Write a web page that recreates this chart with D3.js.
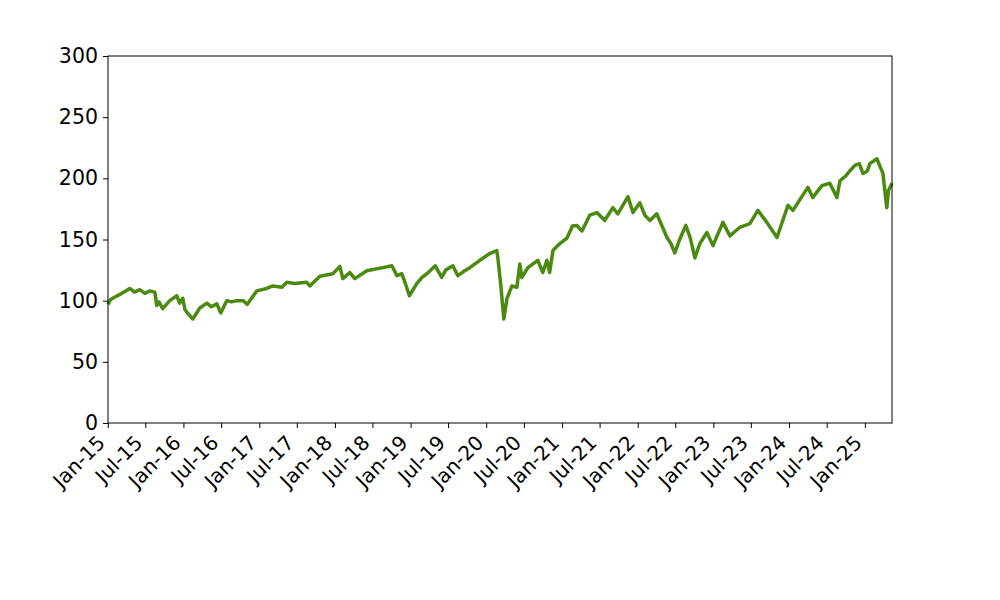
<!DOCTYPE html>
<html>
<head>
<meta charset="utf-8">
<script src="https://cdn.jsdelivr.net/npm/d3@7"></script>
<style>
  html, body { margin: 0; padding: 0; background: #fff; }
  svg { display: block; }
  text { font-family: "DejaVu Sans", sans-serif; }
</style>
</head>
<body>
<svg id="chart" width="1000" height="600"></svg>
<script>
// ---- data ----
const dates = [
  "2015-01-02","2015-01-15","2015-02-04","2015-03-10","2015-04-17","2015-05-10","2015-06-04","2015-06-29",
  "2015-07-23","2015-08-16","2015-08-25","2015-09-05","2015-09-23","2015-10-27","2015-11-30","2015-12-14",
  "2015-12-29","2016-01-08","2016-01-20","2016-02-15","2016-03-20","2016-04-23","2016-05-15","2016-06-10",
  "2016-06-29","2016-07-28","2016-08-20","2016-09-15","2016-10-15","2016-11-04","2016-12-20","2017-02-06",
  "2017-03-07","2017-04-20","2017-05-14","2017-06-20","2017-08-18","2017-09-02","2017-10-20","2017-12-22",
  "2018-01-25","2018-02-08","2018-03-14","2018-04-07","2018-06-04","2018-08-20","2018-10-03","2018-10-27",
  "2018-11-20","2018-12-05","2018-12-26","2019-01-31","2019-02-25","2019-03-21","2019-04-30","2019-05-31",
  "2019-06-20","2019-07-24","2019-08-17","2019-09-15","2019-10-14","2019-12-01","2020-01-18","2020-02-21",
  "2020-02-26","2020-03-10","2020-03-26","2020-04-10","2020-05-04","2020-05-28","2020-06-11","2020-06-21",
  "2020-07-20","2020-09-06","2020-09-30","2020-10-20","2020-11-02","2020-11-18","2020-12-21","2021-01-24",
  "2021-02-20","2021-03-13","2021-04-07","2021-05-15","2021-06-18","2021-07-26","2021-09-03","2021-09-27",
  "2021-11-15","2021-12-09","2022-01-11","2022-02-05","2022-03-01","2022-04-03","2022-05-22","2022-06-10",
  "2022-06-29","2022-07-20","2022-08-21","2022-09-12","2022-10-04","2022-10-28","2022-12-01","2022-12-30",
  "2023-02-16","2023-03-22","2023-05-09","2023-06-26","2023-08-04","2023-09-16","2023-11-04","2023-12-27",
  "2024-01-20","2024-04-01","2024-04-25","2024-06-08","2024-07-16","2024-08-19","2024-09-03","2024-10-01",
  "2024-10-20","2024-11-14","2024-12-05","2024-12-23","2025-01-13","2025-01-25","2025-02-28","2025-03-29",
  "2025-04-17","2025-04-25","2025-05-12"
];
const values = [
  97,101,103,106,110,107,109,106,
  108,107,96,99,93.5,100,104,98,
  102,93,90,85,94,98,95,97.5,
  90,100,99,100,100,97,108,110,
  112,111,115,114,115,112,120,122,
  128,118,123,118,124.5,127,128.5,120.5,
  122,115,104,114,119,122,128.5,119,
  125,128.5,120.5,124,127,133,138.5,141,
  135,115,85,101.6,112,111,130,119,
  127,133,123,133,123,141,146.7,151,
  161,161.5,157,170,172,165.6,176,171,
  185,172,180,169.7,165.6,171,151.6,146.7,
  139,149,161.5,151,135,146.7,155.7,145,
  164,153,160,163,173.8,164,151.6,178,
  173.8,192.6,184.4,194,196,184.4,198,202,
  206,210.6,212,204,206,212,216,204,
  176,190,196
];
const yTicks = [0, 50, 100, 150, 200, 250, 300];
const xTickLabels = ["Jan-15","Jul-15","Jan-16","Jul-16","Jan-17","Jul-17","Jan-18","Jul-18","Jan-19","Jul-19",
  "Jan-20","Jul-20","Jan-21","Jul-21","Jan-22","Jul-22","Jan-23","Jul-23","Jan-24","Jul-24","Jan-25"];

// ---- drawing ----
const parse = d3.timeParse("%Y-%m-%d");
const data = dates.map((d, i) => ({ date: parse(d), value: values[i] }));

const mLeft = 108, mRight = 892, mTop = 56, mBottom = 423;
const svg = d3.select("#chart");

const x = d3.scaleTime().domain(d3.extent(data, d => d.date)).range([mLeft, mRight]);
const y = d3.scaleLinear().domain([0, 300]).range([mBottom, mTop]);

const tickDates = xTickLabels.map(s => d3.timeParse("%b-%y")(s));

// axes
const xAxis = d3.axisBottom(x).tickValues(tickDates).tickSize(5).tickPadding(3).tickFormat(d3.timeFormat("%b-%y"));
const yAxis = d3.axisLeft(y).tickValues(yTicks).tickSize(5).tickPadding(5);

const gx = svg.append("g").attr("transform", `translate(0,${mBottom})`).call(xAxis);
gx.select(".domain").remove();
gx.selectAll("line").attr("stroke", "#000");
gx.selectAll("text")
  .attr("font-size", 20)
  .attr("fill", "#000")
  .attr("text-anchor", "end")
  .attr("dy", null)
  .attr("y", 0)
  .attr("transform", "translate(-2,21) rotate(-45)");

const gy = svg.append("g").attr("transform", `translate(${mLeft},0)`).call(yAxis);
gy.select(".domain").remove();
gy.selectAll("line").attr("stroke", "#000");
gy.selectAll("text").attr("font-size", 20.5).attr("fill", "#000");

// line
const line = d3.line().x(d => x(d.date)).y(d => y(d.value));
svg.append("path")
  .datum(data)
  .attr("fill", "none")
  .attr("stroke", "#4a8a10")
  .attr("stroke-width", 3.5)
  .attr("stroke-linejoin", "round")
  .attr("d", line);

// frame
svg.append("rect")
  .attr("x", mLeft).attr("y", mTop)
  .attr("width", mRight - mLeft).attr("height", mBottom - mTop)
  .attr("fill", "none").attr("stroke", "#000").attr("stroke-width", 1);
</script>
</body>
</html>
